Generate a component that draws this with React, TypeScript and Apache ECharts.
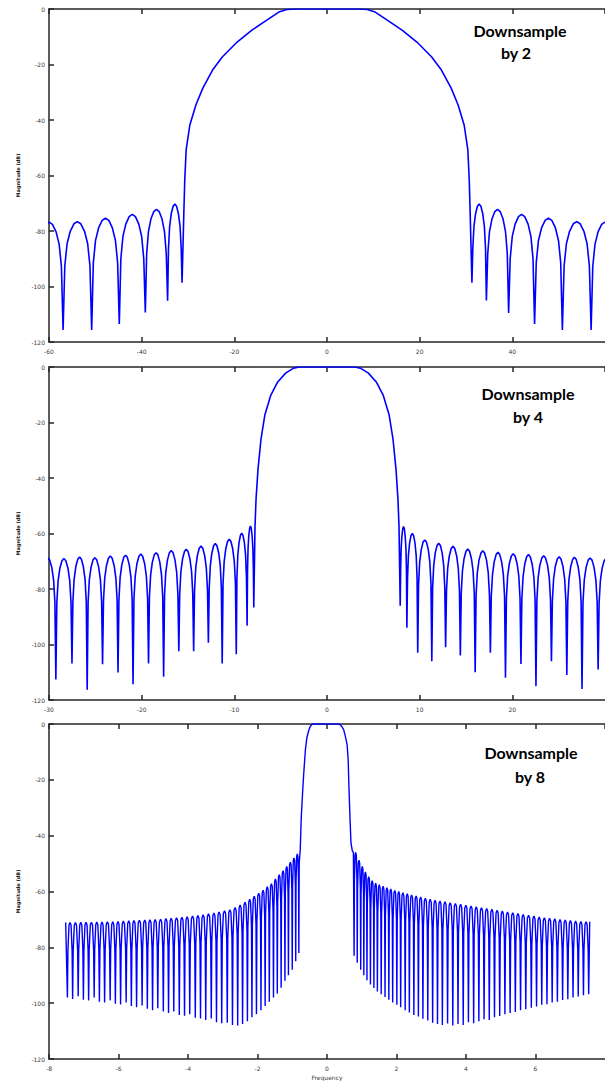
import React, { useEffect, useRef } from "react";
import * as echarts from "echarts";

// ---------- axis definitions ----------
const Y_MIN = -120;
const Y_MAX = 0;
const Y_STEP = 20;
const P1_X = { min: -60, max: 60, step: 20 };
const P2_X = { min: -30, max: 30, step: 10 };
const P3_X = { min: -8, max: 8, step: 2 };

// Sidelobe shapes: [fraction of lobe width, dB below lobe peak]
const LOBE_PROFILE = [
  [0.06, -16], [0.14, -8], [0.25, -3.5], [0.38, -0.8], [0.5, 0],
  [0.62, -0.8], [0.75, -3.5], [0.86, -8], [0.94, -16],
];
const NARROW_LOBE_PROFILE = [[0.1, -10], [0.3, -1], [0.5, 0], [0.7, -1], [0.9, -10]];

// ---------- Panel 1: downsample by 2 ----------
const P1_L_NULLS = [-63.0, -56.96, -50.79, -44.83, -39.21, -34.4, -31.28];
const P1_L_DEPTHS = [-110, -115.7, -115.7, -113.5, -109.4, -105.1, -98.6];
const P1_L_PEAKS = [-76.8, -76.6, -75.4, -74.0, -72.2, -70.3];
const P1_MAIN = [
  [-30.9, -73.6], [-30.7, -61.6], [-30.4, -50.8], [-29.6, -41.8], [-28.3, -34.6],
  [-26.8, -28.5], [-24.7, -22], [-22.6, -17.3], [-19.4, -11.9], [-16.2, -7.6],
  [-13, -4], [-10.4, -1.1], [-8.7, -0.2], [-6.6, 0], [6.6, 0], [8.7, -0.2],
  [10.4, -1.1], [13, -4], [16.2, -7.6], [19.4, -11.9], [22.6, -17.3], [24.7, -22],
  [26.8, -28.5], [28.3, -34.6], [29.6, -41.8], [30.4, -50.8], [30.7, -61.6], [30.9, -73.6],
];
const P1_R_NULLS = [31.28, 34.4, 39.2, 44.8, 50.8, 57.0, 63.0];
const P1_R_DEPTHS = [-98.6, -105, -109.5, -113.5, -115.7, -115.7, -110];
const P1_R_PEAKS = [-70.3, -72.2, -74.0, -75.4, -76.6, -76.8];

// ---------- Panel 2: downsample by 4 ----------
const P2_L_NULLS = [-31.0, -29.26, -27.52, -25.88, -24.22, -22.55, -20.93, -19.26, -17.63, -15.99, -14.39, -12.8, -11.31, -9.79, -8.62, -7.9];
const P2_L_DEPTHS = [-108, -112.6, -106.8, -116.3, -107.1, -110.1, -114.3, -106.8, -111.6, -102.4, -102.4, -99.4, -106.8, -103.5, -93.2, -86.7];
const P2_L_PEAKS = [-68.8, -69.0, -68.5, -68.7, -68.1, -67.8, -67.4, -66.9, -66.1, -65.7, -64.5, -63.6, -62.1, -59.9, -57.3];
const P2_MAIN = [
  [-7.77, -57.5], [-7.66, -47.8], [-7.45, -37], [-7.13, -26.2], [-6.7, -17.2],
  [-6.06, -10.1], [-5.32, -5.4], [-4.47, -2.2], [-3.6, -0.4], [-3.0, 0],
  [3.0, 0], [3.6, -0.4], [4.47, -2.2], [5.32, -5.4], [6.06, -10.1], [6.7, -17.2],
  [7.13, -26.2], [7.45, -37], [7.66, -47.8], [7.77, -57.5],
];
const P2_R_NULLS = [7.9, 8.62, 9.79, 11.31, 12.8, 14.39, 15.99, 17.63, 19.26, 20.93, 22.55, 24.22, 25.88, 27.52, 29.26, 31.0];
const P2_R_DEPTHS = [-86, -94, -103, -106, -101, -104, -110, -103, -112, -107, -115, -106, -111, -116, -109, -108];
const P2_R_PEAKS = [-57.5, -60, -62.3, -63.5, -64.6, -65.6, -66.2, -66.8, -67.3, -67.6, -68.0, -68.4, -68.6, -68.8, -68.9];

// ---------- Panel 3: downsample by 8 ----------
const P3_START = [-7.52, -71.1];
const P3_L_NULLS = [
  -7.47, -7.32, -7.16, -7.01, -6.86, -6.7, -6.55, -6.4, -6.24, -6.09,
  -5.94, -5.78, -5.63, -5.48, -5.32, -5.17, -5.02, -4.87, -4.71, -4.56,
  -4.41, -4.25, -4.1, -3.95, -3.79, -3.64, -3.49, -3.33, -3.18, -3.03,
  -2.87, -2.72, -2.57, -2.43, -2.29, -2.16, -2.03, -1.9, -1.78, -1.66,
  -1.54, -1.43, -1.32, -1.21, -1.11, -1.0, -0.9, -0.81,
];
const P3_L_DEPTHS = [
  -98, -98.5, -97.5, -98.8, -99, -98, -99.5, -99.8, -99, -100.2,
  -100.5, -99.8, -101, -101.5, -100.8, -102, -102.5, -101.8, -103, -103.5,
  -103, -104.2, -104.5, -104, -105.2, -105.5, -106, -105.5, -106.8, -107.2,
  -107, -107.8, -108, -107.5, -106.5, -105, -104, -102.5, -101, -99.5,
  -98, -96.5, -94.5, -92, -90, -88, -85, -82,
];
const P3_L_PEAKS = [
  -71.1, -71.1, -71.0, -71.0, -71.0, -70.9, -70.9, -70.8, -70.8, -70.7,
  -70.6, -70.5, -70.4, -70.3, -70.2, -70.1, -70.0, -69.9, -69.7, -69.6,
  -69.4, -69.2, -69.0, -68.8, -68.6, -68.3, -68.0, -67.7, -67.3, -66.9,
  -66.5, -65.7, -64.8, -63.8, -62.8, -61.7, -60.6, -59.5, -58.3, -57.2,
  -55.5, -54, -52.5, -51, -49.5, -48, -46.5,
];
const P3_MAIN = [
  [-0.8, -50], [-0.77, -45], [-0.74, -33.3], [-0.7, -24], [-0.67, -17.8],
  [-0.62, -9], [-0.58, -5], [-0.53, -2.5], [-0.48, -0.8], [-0.42, 0],
  [0.36, 0], [0.42, -0.8], [0.48, -2], [0.53, -4.5], [0.58, -7.5],
  [0.61, -13], [0.63, -22], [0.66, -33], [0.69, -42.7], [0.73, -45.5], [0.76, -46],
];
const P3_R_NULLS = [
  0.78, 0.87, 0.97, 1.06, 1.15, 1.25, 1.35, 1.45, 1.56, 1.67,
  1.78, 1.89, 2.01, 2.12, 2.25, 2.37, 2.5, 2.63, 2.76, 2.9,
  3.04, 3.18, 3.32, 3.47, 3.62, 3.77, 3.92, 4.07, 4.22, 4.37,
  4.52, 4.67, 4.82, 4.97, 5.12, 5.27, 5.42, 5.57, 5.72, 5.88,
  6.03, 6.18, 6.33, 6.48, 6.63, 6.78, 6.93, 7.08, 7.23, 7.38, 7.53,
];
const P3_R_DEPTHS = [
  -83, -85.5, -88, -90, -91.8, -93.3, -94.6, -95.8, -96.8, -97.8,
  -98.8, -99.8, -100.6, -101.5, -102.5, -103.3, -104.2, -104.8, -105.6, -106.2,
  -107, -107.5, -107.8, -107.3, -108, -107.5, -107.8, -106.8, -107.2, -106.5,
  -105.8, -106, -105, -104.6, -104, -103.5, -103.2, -102.5, -102.2, -101.6,
  -101.2, -100.6, -100.4, -99.8, -99.5, -98.9, -98.6, -98, -97.6, -97.2, -96.8,
];
const P3_R_PEAKS = [
  -46, -48.8, -51, -53, -54.7, -56.1, -57, -57.6, -58.1, -58.6,
  -59.1, -59.6, -60, -60.4, -60.8, -61.2, -61.6, -62, -62.4, -62.8,
  -63.1, -63.4, -63.7, -64, -64.3, -64.6, -64.9, -65.2, -65.5, -65.8,
  -66.1, -66.4, -66.7, -67, -67.3, -67.6, -67.9, -68.2, -68.5, -68.8,
  -69.1, -69.4, -69.6, -69.8, -70, -70.2, -70.4, -70.6, -70.7, -70.8,
];
const P3_END = [7.56, -70.8];

const TITLES = ["Downsample", "by 2", "by 4", "by 8"];
const Y_NAME = "Magnitude (dB)";
const X_NAME = "Frequency";

// ---------- helpers ----------
function lobes(nulls: number[], depths: number[], peaks: number[], profile: number[][]) {
  const pts: number[][] = [];
  for (let i = 0; i < peaks.length; i++) {
    const a = nulls[i];
    const b = nulls[i + 1];
    pts.push([a, depths[i]]);
    for (const [f, d] of profile) pts.push([a + (b - a) * f, peaks[i] + d]);
  }
  pts.push([nulls[nulls.length - 1], depths[depths.length - 1]]);
  return pts;
}

const P1_DATA = [
  ...lobes(P1_L_NULLS, P1_L_DEPTHS, P1_L_PEAKS, LOBE_PROFILE),
  ...P1_MAIN,
  ...lobes(P1_R_NULLS, P1_R_DEPTHS, P1_R_PEAKS, LOBE_PROFILE),
];
const P2_DATA = [
  ...lobes(P2_L_NULLS, P2_L_DEPTHS, P2_L_PEAKS, LOBE_PROFILE),
  ...P2_MAIN,
  ...lobes(P2_R_NULLS, P2_R_DEPTHS, P2_R_PEAKS, LOBE_PROFILE),
];
const P3_DATA = [
  P3_START,
  ...lobes(P3_L_NULLS, P3_L_DEPTHS, P3_L_PEAKS, NARROW_LOBE_PROFILE),
  ...P3_MAIN,
  ...lobes(P3_R_NULLS, P3_R_DEPTHS, P3_R_PEAKS, NARROW_LOBE_PROFILE),
  P3_END,
];

const GRIDS = [
  { left: 49, top: 9, width: 564, height: 333 },
  { left: 49, top: 367, width: 564, height: 333 },
  { left: 49, top: 724, width: 564, height: 338 },
];
const XDEFS = [P1_X, P2_X, P3_X];
const DATAS = [P1_DATA, P2_DATA, P3_DATA];

const AXIS_COLOR = "#262626";
const LABEL_STYLE = { fontSize: 6, color: "#3a3a3a", fontFamily: "DejaVu Sans" };

export default function App() {
  const ref = useRef<HTMLDivElement>(null);
  useEffect(() => {
    if (!ref.current) return;
    const chart = echarts.init(ref.current, null, { renderer: "svg" });
    const xAxis: any[] = [];
    const yAxis: any[] = [];
    const series: any[] = [];
    GRIDS.forEach((g, i) => {
      const xd = XDEFS[i];
      const common = {
        type: "value",
        gridIndex: i,
        min: xd.min,
        max: xd.max,
        interval: xd.step,
        splitLine: { show: false },
        axisLine: { show: true, onZero: false, lineStyle: { color: AXIS_COLOR, width: 1.5 } },
        axisTick: { show: true, inside: true, length: 5, lineStyle: { color: AXIS_COLOR, width: 1.5 } },
      };
      xAxis.push({
        ...common,
        position: "bottom",
        axisLabel: { ...LABEL_STYLE, margin: 6, showMaxLabel: false },
        ...(i === 2
          ? { name: X_NAME, nameLocation: "middle", nameGap: 15, nameTextStyle: { ...LABEL_STYLE } }
          : {}),
      });
      xAxis.push({ ...common, position: "top", axisLabel: { show: false } });
      yAxis.push({
        type: "value",
        gridIndex: i,
        min: Y_MIN,
        max: Y_MAX,
        interval: Y_STEP,
        splitLine: { show: false },
        axisLine: { show: true, onZero: false, lineStyle: { color: AXIS_COLOR, width: 1.5 } },
        axisTick: { show: true, inside: true, length: 5, lineStyle: { color: AXIS_COLOR, width: 1.5 } },
        axisLabel: { ...LABEL_STYLE, margin: 4 },
        name: Y_NAME,
        nameLocation: "middle",
        nameGap: 13,
        nameRotate: 90,
        nameTextStyle: { fontSize: 5, color: "#222", fontWeight: "bold", fontFamily: "DejaVu Sans" },
      });
      series.push({
        type: "line",
        xAxisIndex: i * 2,
        yAxisIndex: i,
        data: DATAS[i],
        showSymbol: false,
        symbol: "none",
        clip: true,
        lineStyle: { color: "#0000ff", width: i === 2 ? 1.4 : 1.6 },
      });
    });
    const titleFont = { fontSize: 16, fontWeight: "bold", fontFamily: "Lato", fill: "#000" };
    const graphic: any[] = [
      { type: "text", x: 520, y: 30, style: { text: TITLES[0], ...titleFont, align: "center", verticalAlign: "middle" } },
      { type: "text", x: 516, y: 52, style: { text: TITLES[1], ...titleFont, align: "center", verticalAlign: "middle" } },
      { type: "text", x: 528, y: 393, style: { text: TITLES[0], ...titleFont, align: "center", verticalAlign: "middle" } },
      { type: "text", x: 528, y: 416, style: { text: TITLES[2], ...titleFont, align: "center", verticalAlign: "middle" } },
      { type: "text", x: 531, y: 752, style: { text: TITLES[0], ...titleFont, align: "center", verticalAlign: "middle" } },
      { type: "text", x: 530, y: 776, style: { text: TITLES[3], ...titleFont, align: "center", verticalAlign: "middle" } },
    ];
    chart.setOption({
      animation: false,
      backgroundColor: "#ffffff",
      grid: GRIDS.map((g) => ({ ...g, containLabel: false })),
      xAxis,
      yAxis,
      series,
      graphic,
    });
    return () => chart.dispose();
  }, []);
  return (
    <div
      ref={ref}
      style={{ position: "fixed", left: 0, top: 0, width: 605, height: 1081, background: "#fff" }}
    />
  );
}
